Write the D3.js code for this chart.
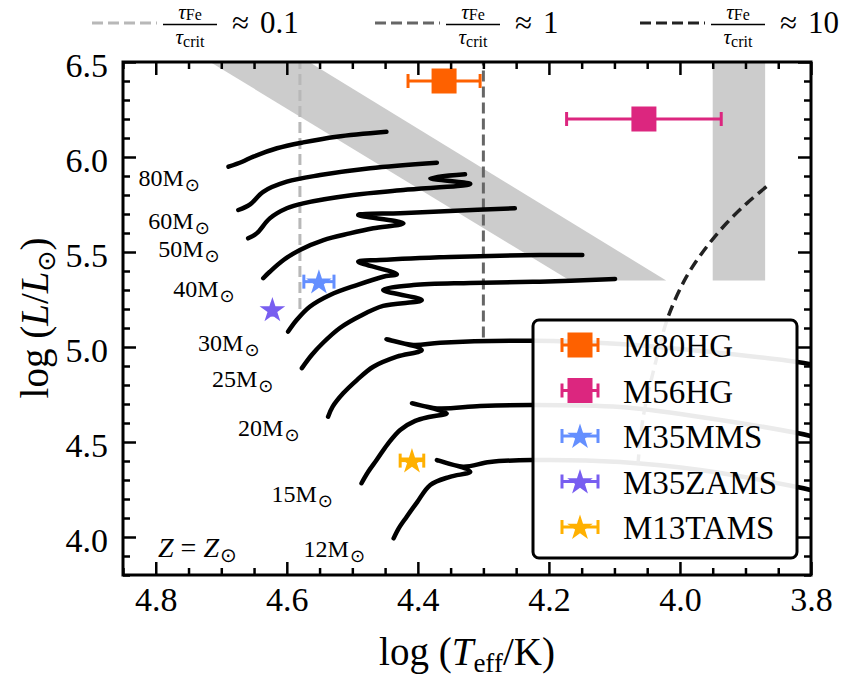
<!DOCTYPE html>
<html>
<head>
<meta charset="utf-8">
<script src="https://cdn.jsdelivr.net/npm/d3@7"></script>
<style>
  body { margin: 0; background: #fff; }
  svg { display: block; }
  text { font-family: "Liberation Serif", "Times New Roman", serif; fill: #000; }
</style>
</head>
<body>
<svg id="chart" width="849" height="677"></svg>
<script>
// ---------- evolutionary tracks: [log Teff, log L/Lsun] ----------
const trackMasses = [80, 60, 50, 40, 30, 25, 20, 15, 12];

const track80 = [[4.689,5.949],[4.668,5.975],[4.651,6.002],[4.615,6.046],[4.575,6.077],[4.524,6.107],[4.448,6.133]];
const track60 = [[4.674,5.721],[4.656,5.751],[4.636,5.817],[4.600,5.870],[4.549,5.905],[4.473,5.941],[4.371,5.970]];
const track50 = [[4.659,5.572],[4.646,5.598],[4.626,5.677],[4.600,5.730],[4.575,5.756],[4.499,5.800],[4.422,5.826],[4.320,5.858],[4.381,5.888],[4.328,5.909]];
const track40 = [[4.636,5.362],[4.626,5.396],[4.605,5.458],[4.580,5.511],[4.544,5.563],[4.504,5.598],[4.468,5.625],[4.422,5.651],[4.491,5.695],[4.427,5.704],[4.351,5.716],[4.252,5.730]];
const track30 = [[4.598,5.081],[4.585,5.142],[4.565,5.212],[4.534,5.274],[4.493,5.326],[4.453,5.370],[4.432,5.384],[4.491,5.449],[4.458,5.458],[4.351,5.474],[4.214,5.484],[4.149,5.484]];
const track25 = [[4.577,4.889],[4.562,4.958],[4.545,5.021],[4.519,5.100],[4.488,5.163],[4.453,5.216],[4.394,5.247],[4.453,5.300],[4.407,5.326],[4.320,5.337],[4.214,5.344],[4.099,5.358]];
const track20 = [[4.537,4.633],[4.530,4.686],[4.514,4.756],[4.493,4.826],[4.468,4.896],[4.432,4.949],[4.394,4.984],[4.448,5.041],[4.407,5.011],[4.366,5.023],[4.226,5.033],[4.091,5.016],[3.969,4.979],[3.821,4.921],[3.794,4.905]];
const track15 = [[4.486,4.283],[4.476,4.342],[4.463,4.405],[4.446,4.489],[4.427,4.563],[4.404,4.611],[4.381,4.633],[4.356,4.651],[4.409,4.704],[4.371,4.677],[4.305,4.689],[4.226,4.695],[4.091,4.684],[3.969,4.632],[3.821,4.547],[3.794,4.526]];
const track12 = [[4.437,3.993],[4.429,4.047],[4.417,4.107],[4.401,4.184],[4.381,4.274],[4.351,4.317],[4.320,4.344],[4.371,4.405],[4.331,4.370],[4.290,4.395],[4.226,4.405],[4.091,4.395],[3.969,4.353],[3.821,4.263],[3.794,4.242]];

const tracks = [track80, track60, track50, track40, track30, track25, track20, track15, track12];

// ---------- shaded regions ----------
const bandLogT = [4.717, 4.566, 4.021, 4.168];
const bandLogL = [6.5, 6.5, 5.35, 5.35];
const stripLogT = [3.95, 3.87];
const stripLogL = [5.35, 6.5];

// ---------- tau_Fe / tau_crit contours ----------
const tauLabels = ["0.1", "1", "10"];
const tauColors = ["#b8b8b8", "#666666", "#222222"];
const tau01LogT = 4.58, tau01LogL = [5.20, 6.5];
const tau1LogT = 4.30, tau1LogL = [5.05, 6.5];
const tau10 = [[3.868,5.844],[3.898,5.756],[3.929,5.651],[3.959,5.528],[3.990,5.370],[4.018,5.159],[4.035,4.949],[4.056,4.633],[4.064,4.388]];

// ---------- models ----------
const modelNames  = ["M80HG", "M56HG", "M35MMS", "M35ZAMS", "M13TAMS"];
const modelLogT   = [4.360, 4.055, 4.551, 4.622, 4.409];
const modelLogL   = [6.400, 6.200, 5.344, 5.198, 4.402];
const modelTErr   = [0.055, 0.118, 0.023, 0.000, 0.018];
const modelShape  = ["square", "square", "star", "star", "star"];
const modelColors = ["#FE6100", "#DC267F", "#648FFF", "#785EF0", "#FFB000"];

// ---------- axes ----------
const xMajor = [4.8, 4.6, 4.4, 4.2, 4.0, 3.8];
const yMajor = [4.0, 4.5, 5.0, 5.5, 6.0, 6.5];
const xMinor = d3.range(4.85, 3.79, -0.05).filter(v => !xMajor.some(m => Math.abs(m - v) < 1e-6));
const yMinor = d3.range(3.8, 6.51, 0.1).filter(v => !yMajor.some(m => Math.abs(m - v) < 1e-6));

const L = 123, R = 811, T = 62, B = 575;

const svg = d3.select("#chart");
const x = d3.scaleLinear().domain([4.85, 3.8]).range([L, R]);
const y = d3.scaleLinear().domain([3.8, 6.5]).range([B, T]);

svg.append("defs").append("clipPath").attr("id", "plotclip")
  .append("rect").attr("x", L).attr("y", T).attr("width", R - L).attr("height", B - T);

const plot = svg.append("g").attr("clip-path", "url(#plotclip)");

// shaded band and strip
plot.append("polygon")
  .attr("points", bandLogT.map((t, i) => [x(t), y(bandLogL[i])].join(",")).join(" "))
  .attr("fill", "#cccccc");
plot.append("rect")
  .attr("x", x(stripLogT[0])).attr("width", x(stripLogT[1]) - x(stripLogT[0]))
  .attr("y", y(stripLogL[1])).attr("height", y(stripLogL[0]) - y(stripLogL[1]))
  .attr("fill", "#cccccc");

// vertical tau contours
plot.append("line")
  .attr("x1", x(tau01LogT)).attr("x2", x(tau01LogT))
  .attr("y1", y(tau01LogL[0])).attr("y2", y(tau01LogL[1]))
  .attr("stroke", tauColors[0]).attr("stroke-width", 3).attr("stroke-dasharray", "11,5");
plot.append("line")
  .attr("x1", x(tau1LogT)).attr("x2", x(tau1LogT))
  .attr("y1", y(tau1LogL[0])).attr("y2", y(tau1LogL[1]))
  .attr("stroke", tauColors[1]).attr("stroke-width", 3).attr("stroke-dasharray", "11,5");

// tracks
const trackLine = d3.line()
  .x(d => x(d[0])).y(d => y(d[1]))
  .curve(d3.curveCatmullRom.alpha(0.5));

plot.selectAll("path.track").data(tracks).join("path")
  .attr("class", "track")
  .attr("d", trackLine)
  .attr("fill", "none")
  .attr("stroke", "#000")
  .attr("stroke-width", 4.5)
  .attr("stroke-linejoin", "round")
  .attr("stroke-linecap", "round");

// tau = 10 contour
plot.append("path")
  .attr("d", trackLine(tau10))
  .attr("fill", "none")
  .attr("stroke", tauColors[2])
  .attr("stroke-width", 3.5)
  .attr("stroke-dasharray", "11,6");

// markers with horizontal error bars
const starR = 13.5;
const starSym = d3.symbol().type(d3.symbolStar).size(starR * starR / 0.8908130915292852);
const squareSide = 25;

function drawMarker(g, cx, cy, halfErr, shape, color) {
  g.append("line").attr("x1", cx - halfErr).attr("x2", cx + halfErr)
    .attr("y1", cy).attr("y2", cy).attr("stroke", color).attr("stroke-width", 3);
  [cx - halfErr, cx + halfErr].forEach(cxp => {
    g.append("line").attr("x1", cxp).attr("x2", cxp)
      .attr("y1", cy - 7).attr("y2", cy + 7).attr("stroke", color).attr("stroke-width", 3);
  });
  if (shape === "square") {
    g.append("rect").attr("x", cx - squareSide / 2).attr("y", cy - squareSide / 2)
      .attr("width", squareSide).attr("height", squareSide).attr("fill", color);
  } else {
    g.append("path").attr("d", starSym()).attr("transform", `translate(${cx},${cy + 1})`)
      .attr("fill", color);
  }
}

const markers = svg.append("g");
modelNames.forEach((n, i) => {
  const cx = x(modelLogT[i]);
  const halfErr = Math.abs(x(modelLogT[i] + modelTErr[i]) - cx);
  drawMarker(markers, cx, y(modelLogL[i]), halfErr, modelShape[i], modelColors[i]);
});

// mass labels, placed below-left of each track's starting point
const labels = svg.append("g");
tracks.forEach((tr, i) => {
  const t = labels.append("text")
    .attr("x", x(tr[0][0]) - 90).attr("y", y(tr[0][1]) + 19)
    .attr("font-size", 24);
  t.append("tspan").text(`${trackMasses[i]}M`);
  t.append("tspan").attr("dx", 1).attr("dy", 5).attr("font-size", 18)
    .attr("font-family", "DejaVu Sans").text("\u2299");
});

// metallicity note
const zt = svg.append("text").attr("x", 158).attr("y", 557).attr("font-size", 28);
zt.append("tspan").attr("font-style", "italic").text("Z");
zt.append("tspan").attr("dx", 7).text("=");
zt.append("tspan").attr("dx", 7).attr("font-style", "italic").text("Z");
zt.append("tspan").attr("dx", 1).attr("dy", 5).attr("font-size", 20).attr("font-family", "DejaVu Sans").text("\u2299");

// ticks (all pointing inward)
function styleAxis(g, fs) {
  g.select(".domain").remove();
  g.selectAll(".tick line").attr("stroke", "#000").attr("stroke-width", 2.5);
  g.attr("font-family", "Liberation Serif, serif").attr("font-size", fs);
  g.selectAll("text").attr("fill", "#000");
}
const fmt = d3.format(".1f");

svg.append("g").attr("transform", `translate(0,${B})`)
  .call(d3.axisBottom(x).tickValues(xMajor).tickFormat(fmt).tickSizeInner(-13).tickSizeOuter(0).tickPadding(12))
  .call(g => styleAxis(g, 34));
svg.append("g").attr("transform", `translate(0,${B})`)
  .call(d3.axisBottom(x).tickValues(xMinor).tickFormat("").tickSizeInner(-7).tickSizeOuter(0))
  .call(g => styleAxis(g, 34));
svg.append("g").attr("transform", `translate(0,${T})`)
  .call(d3.axisTop(x).tickValues(xMajor).tickFormat("").tickSizeInner(-13).tickSizeOuter(0))
  .call(g => styleAxis(g, 34));
svg.append("g").attr("transform", `translate(0,${T})`)
  .call(d3.axisTop(x).tickValues(xMinor).tickFormat("").tickSizeInner(-7).tickSizeOuter(0))
  .call(g => styleAxis(g, 34));

svg.append("g").attr("transform", `translate(${L},0)`)
  .call(d3.axisLeft(y).tickValues(yMajor).tickFormat(fmt).tickSizeInner(-13).tickSizeOuter(0).tickPadding(15))
  .call(g => styleAxis(g, 34))
  .call(g => g.selectAll("text").attr("dy", "0.42em"));
svg.append("g").attr("transform", `translate(${L},0)`)
  .call(d3.axisLeft(y).tickValues(yMinor).tickFormat("").tickSizeInner(-7).tickSizeOuter(0))
  .call(g => styleAxis(g, 34));
svg.append("g").attr("transform", `translate(${R},0)`)
  .call(d3.axisRight(y).tickValues(yMajor).tickFormat("").tickSizeInner(-13).tickSizeOuter(0))
  .call(g => styleAxis(g, 34));
svg.append("g").attr("transform", `translate(${R},0)`)
  .call(d3.axisRight(y).tickValues(yMinor).tickFormat("").tickSizeInner(-7).tickSizeOuter(0))
  .call(g => styleAxis(g, 34));

// frame
svg.append("rect").attr("x", L).attr("y", T).attr("width", R - L).attr("height", B - T)
  .attr("fill", "none").attr("stroke", "#000").attr("stroke-width", 3);

// axis titles
const xt = svg.append("text").attr("x", (L + R) / 2).attr("y", 665)
  .attr("text-anchor", "middle").attr("font-size", 39);
xt.append("tspan").text("log (");
xt.append("tspan").attr("font-style", "italic").text("T");
xt.append("tspan").attr("dy", 7).attr("font-size", 27).text("eff");
xt.append("tspan").attr("dy", -7).text("/K)");

const yt = svg.append("text").attr("transform", "translate(48,318) rotate(-90)")
  .attr("text-anchor", "middle").attr("font-size", 39);
yt.append("tspan").text("log (");
yt.append("tspan").attr("font-style", "italic").text("L");
yt.append("tspan").text("/");
yt.append("tspan").attr("font-style", "italic").text("L");
yt.append("tspan").attr("dy", 7).attr("font-size", 25).attr("font-family", "DejaVu Sans").text("\u2299");
yt.append("tspan").attr("dy", -7).text(")");

// model legend box
const lg = svg.append("g");
lg.append("rect").attr("x", 533).attr("y", 320).attr("width", 264).attr("height", 238)
  .attr("rx", 6).attr("fill", "#fff").attr("fill-opacity", 0.92)
  .attr("stroke", "#000").attr("stroke-width", 3);
modelNames.forEach((n, i) => {
  const cy = 345 + i * 45.5;
  drawMarker(lg, 580, cy, 18, modelShape[i], modelColors[i]);
  lg.append("text").attr("x", 623).attr("y", cy + 12).attr("font-size", 33).text(n);
});

// contour legend across the top
const tauX = [92, 375, 640];
tauLabels.forEach((lab, i) => {
  const g = svg.append("g").attr("transform", `translate(${tauX[i]},0)`);
  g.append("line").attr("x1", 0).attr("x2", 65).attr("y1", 23).attr("y2", 23)
    .attr("stroke", tauColors[i]).attr("stroke-width", 3).attr("stroke-dasharray", "11,5");
  const cx = 98;
  const num = g.append("text").attr("x", cx).attr("y", 19).attr("text-anchor", "middle").attr("font-size", 21);
  num.append("tspan").attr("font-style", "italic").text("\u03c4");
  num.append("tspan").attr("dy", 1).attr("font-size", 16).text("Fe");
  g.append("line").attr("x1", cx - 27).attr("x2", cx + 27).attr("y1", 24.5).attr("y2", 24.5)
    .attr("stroke", "#000").attr("stroke-width", 1.5);
  const den = g.append("text").attr("x", cx).attr("y", 44).attr("text-anchor", "middle").attr("font-size", 21);
  den.append("tspan").attr("font-style", "italic").text("\u03c4");
  den.append("tspan").attr("dy", 3).attr("font-size", 16).text("crit");
  const rel = g.append("text").attr("x", 140).attr("y", 33).attr("font-size", 31);
  rel.append("tspan").text("\u2248");
  rel.append("tspan").attr("dx", 11).text(lab);
});
</script>
</body>
</html>
